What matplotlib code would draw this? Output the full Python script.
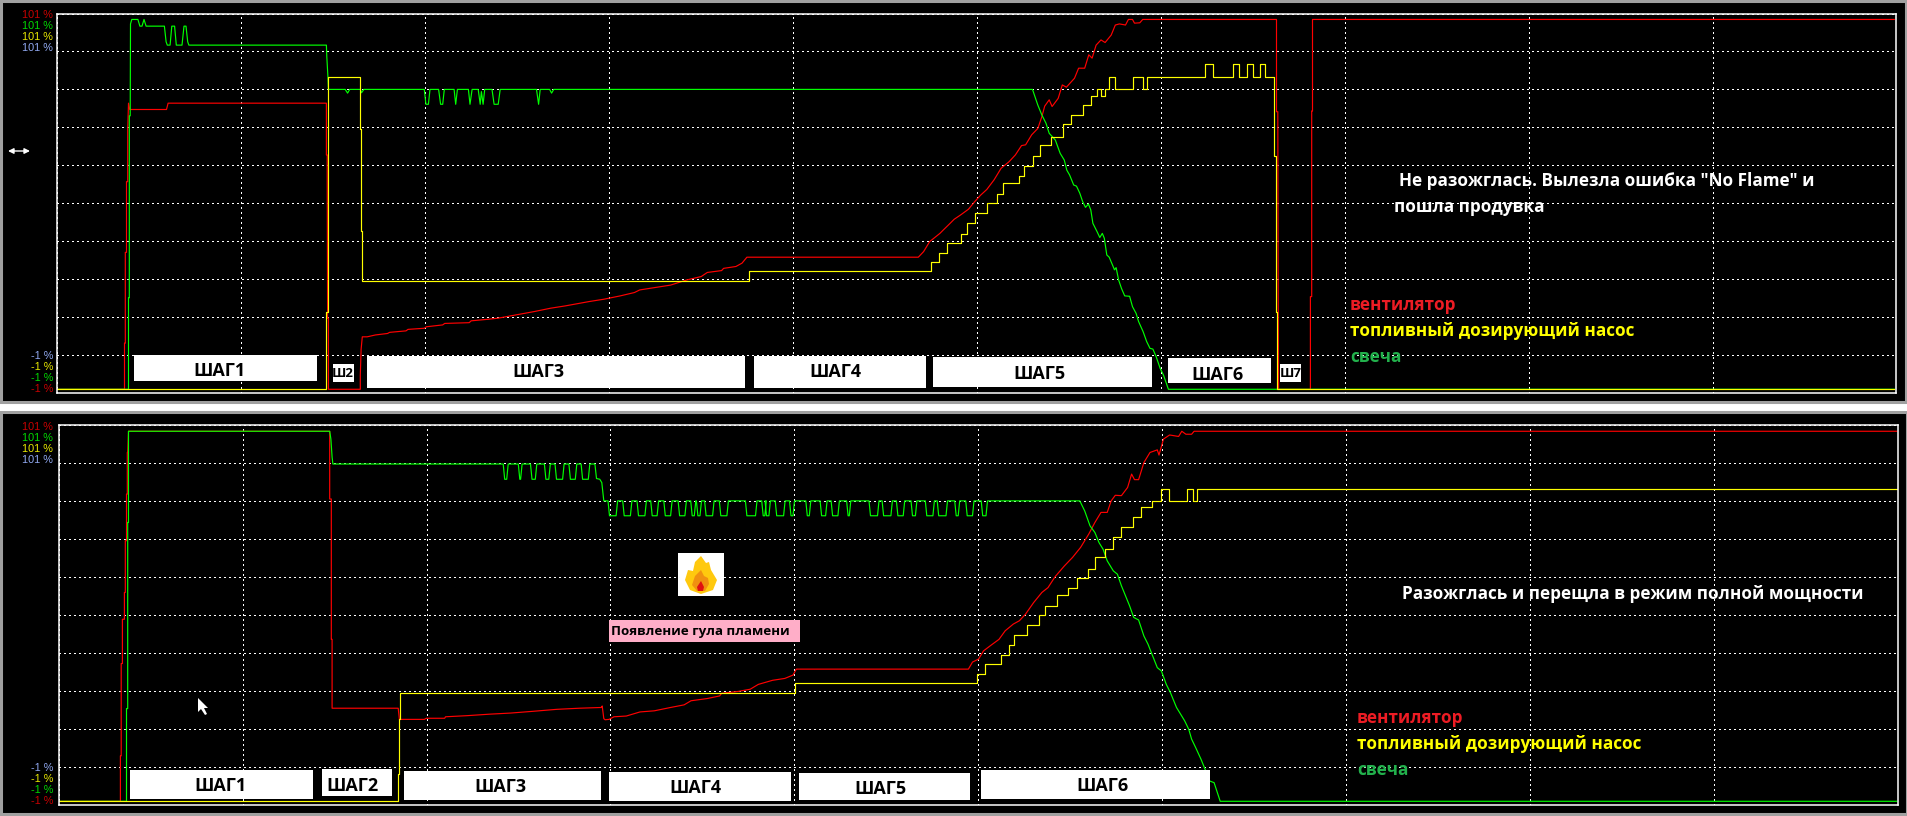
import matplotlib
matplotlib.use('Agg')
import matplotlib.pyplot as plt
from matplotlib.patches import Rectangle, Polygon, FancyArrowPatch
import numpy as np

W, H = 1908, 816

# upper recording - failed ignition (time in samples, values in %)
top_fan_t = [0, 67, 67, 67.8, 67.8, 69, 69, 70.2, 70.2, 71, 72.2, 109, 110.6, 268.9, 268.9, 269.7, 269.7, 270.1,
             270.9, 270.9, 302.8, 302.8, 303.6, 304.8, 309.7, 317.9, 330.1, 332.1, 348.5, 350.5, 366.8, 368.9,
             385.2, 387.2, 411.7, 413.7, 430, 440.3, 477, 493.3, 507.6, 517.8, 532.1, 546.3, 562.7, 576.9, 582.2,
             613.1, 629.4, 643.7, 649.8, 664.1, 666.1, 678.4, 684.5, 689.4, 860.8, 866.1, 872.2, 882.4, 886.5,
             892.6, 896.7, 902.8, 911, 917.1, 923.2, 929.3, 936.6, 943.6, 951.7, 957.9, 964, 968.1, 974.2, 980.3,
             984.4, 987.2, 991.7, 994.6, 1000.7, 1004.8, 1008.9, 1017, 1021.1, 1027.2, 1031.3, 1034.6, 1038.6,
             1043.5, 1047.6, 1053.7, 1057.8, 1061.9, 1068, 1070.9, 1075, 1077, 1082.3, 1085.2, 1219, 1219, 1220.3,
             1220.7, 1221.1, 1252.9, 1252.9, 1254.2, 1254.2, 1255, 1255, 1836.8]
top_fan_v = [0, 0, 12.4, 12.4, 36.8, 36.8, 55.8, 55.8, 69.7, 76.9, 75.2, 75.2, 76.9, 76.9, 63, 63, 57.6, 19.1,
             19.1, 0, 0, 3.8, 10.7, 14.1, 14.1, 14.6, 15, 15.3, 15.7, 16.1, 16.4, 16.8,
             17.3, 17.7, 17.9, 18.4, 18.8, 19.1, 20.9, 21.8, 22.4, 22.9, 23.6, 24.2, 25.1, 26, 26.7,
             28, 29.4, 30.3, 31.4, 31.9, 32.5, 33, 33.9, 35.5, 35.5, 37, 39.7, 41.9, 43,
             44.6, 45.7, 46.8, 48.4, 50.4, 52.2, 53.7, 56.3, 59.4, 61.2, 63, 65.5, 65.7, 68.4, 70.1,
             73.3, 76.1, 77.8, 76, 78.2, 81.8, 81.2, 83.6, 86.3, 86.3, 89.9, 89, 92.5,
             93.9, 93.2, 95.2, 97.9, 98.2, 97.9, 99.4, 99.4, 98.4, 98.5, 99.4, 99.4, 74.6, 74.6,
             24.4, 0, 0, 24.9, 24.9, 74.8, 74.8, 99.4, 99.4]

top_plug_t = [0, 71, 71, 71.8, 71.8, 72.7, 73, 74.3, 80.4, 82.4, 84.5, 86.5, 88.6, 106.9, 108.6, 109.8, 112.6, 114.3,
              117.1, 118.8, 124.5, 126.5, 128.5, 130.2, 131.4, 268.9, 269.3, 270.5, 270.9, 287.7, 290.1, 292.2,
              302.8, 304, 306.4, 366.8, 368.4, 370.9, 372.5, 381.1, 383.1, 385.2, 386.8, 396.6, 398.2, 399.9,
              410.9, 412.5, 414.6, 420.7, 422.7, 423.9, 425.6, 427.2, 434.5, 436.6, 440.7, 442.7, 479, 481.1, 482.7,
              492.1, 494.1, 496.2, 975, 980.3, 984.4, 988.5, 991.7, 997.8, 1002.7, 1006.8, 1009.3, 1012.1, 1016.2,
              1019, 1022.3, 1025.2, 1028, 1030.9, 1033.3, 1035.4, 1039.5, 1042.3, 1044.8, 1046.8, 1049.3, 1051.7,
              1055, 1057, 1058.6, 1061.1, 1064, 1067.2, 1072.1, 1075, 1078.6, 1081.1, 1085.6, 1089.2, 1092.5,
              1095.4, 1098.6, 1102.7, 1106, 1110.9, 1836.8]
top_plug_v = [0, 0, 24.6, 24.6, 73.5, 73.5, 98.2, 99.4, 99.4, 97.6, 97.6, 99.4, 97.6, 97.6, 93.4, 92.5, 92.5, 97.6,
              97.6, 92.5, 92.5, 97.6, 97.6, 93.4, 92.5, 92.5, 89.4, 83.6, 80.6, 80.6, 79.6, 80.6,
              80.6, 79.7, 80.6, 80.6, 76.6, 76.6, 80.6, 80.6, 76.6, 76.6, 80.6, 80.6, 76.6, 80.6,
              80.6, 76.6, 80.6, 80.6, 76.6, 80, 76.6, 80.6, 80.6, 76.6, 76.6, 80.6, 80.6, 76.6, 80.6,
              80.6, 79.6, 80.6, 80.6, 76.4, 73.7, 71.5, 68.8, 67, 63.4, 61.6, 58.9, 57.6, 54.9,
              54.6, 52.7, 50.4, 48.9, 49.8, 48.2, 44.6, 42.4, 40.8, 41.9, 40.6, 36.1, 35.5,
              33.4, 32.1, 32.7, 29.4, 27.1, 25.1, 25, 22.2, 20.4, 18.2, 15.5, 12.8, 11,
              10.8, 8.8, 5.6, 3.8, 0, 0]

top_pump_t = [0, 269, 270.5, 302.8, 303.6, 304.8, 692, 874, 882, 890, 904, 910, 918, 930, 940, 945.5, 962, 966.5,
              975.5, 983, 994, 1006, 1014, 1026, 1034, 1040, 1044, 1047.5, 1051.5, 1057.5, 1075.5, 1086, 1089.5,
              1148, 1156, 1176, 1182, 1190, 1196, 1202.5, 1207.5, 1217, 1218.6, 1219.8, 1836.8]
top_pump_v = [0, 20.9, 83.9, 69.9, 42.6, 29, 31.7, 34.1, 36.7, 39.2, 41.8, 44.6, 47.3, 50, 52.4, 55.4, 57.4, 60,
              62.7, 65.6, 67.7, 71.2, 73.6, 76.4, 78.9, 80.6, 78.9, 80.6, 83.9, 80.6, 83.9, 80.6, 83.9,
              87.3, 83.9, 87.3, 83.9, 87.3, 83.9, 87.3, 83.9, 62.8, 20.9, 0, 0]

# lower recording - ignition and ramp to full power
bot_fan_t = [0, 61.6, 61.6, 62.4, 62.4, 63.6, 63.6, 65.6, 65.6, 66.5, 66.5, 67.7, 67.7, 68.5, 68.5, 68.9, 69.7,
             270.9, 270.9, 272.5, 272.5, 273.3, 273.3, 339.4, 340.6, 365.5, 367.6, 385.9, 386.7, 408.4, 430.8, 452,
             475.6, 498.1, 520.6, 542.6, 543.4, 545, 546.3, 550.3, 555.2, 567.5, 581.2, 595.5, 611.8, 625.3, 632.2,
             648.5, 660.8, 662.8, 679.1, 691.4, 699.5, 713.8, 726, 734.2, 737.5, 909.6, 913.7, 919.8, 924.7, 932.1,
             940.2, 946.4, 954.5, 960.6, 966.8, 974.9, 983.1, 989.2, 996.5, 1005.5, 1013.7, 1021.8, 1030, 1036.1,
             1042.2, 1048.4, 1052.4, 1056.5, 1062.6, 1068.8, 1072.8, 1075.7, 1079.8, 1085.1, 1091.2, 1098.5, 1100.2,
             1104.7, 1110.8, 1119.8, 1123, 1127.1, 1132.8, 1135.3, 1838]
bot_fan_v = [0, 0, 12.2, 12.2, 37, 37, 48.9, 48.9, 56.1, 56.1, 70, 70, 82.5, 82.5, 93.7, 93.7, 99.4,
             99.4, 81.2, 81.2, 43.5, 43.5, 25, 25, 22, 22, 22.3, 22.3, 22.7, 23, 23.4, 23.7,
             24.2, 24.7, 25, 25.2, 25.6, 22.2, 21.9, 22, 22.7, 22.9, 24, 24.3, 25.2, 25.9, 27,
             27.6, 28.3, 29, 29.5, 30.1, 31.4, 32.5, 33, 33.9, 35.5, 35.5, 37.4, 38.2, 40.4, 41.9,
             43.5, 45.8, 47.6, 48.5, 50.3, 53.4, 56.1, 57.4, 60.4, 63.2, 65.5, 68.2, 71.8, 74.9,
             77.6, 77.6, 80.7, 82.2, 82.1, 84.3, 87.9, 86.4, 86.4, 91, 93.7, 94.4, 93,
             97.3, 98.4, 98, 99.4, 98.6, 98.6, 99.4, 99.4]

# spark plug before the pulsing starts
bot_plug_t = [0, 67.7, 67.7, 68.9, 68.9, 69.7, 69.7, 270.9, 272.1, 273.3, 274.1, 443.9]
bot_plug_v = [0, 0, 24.9, 24.9, 74.9, 74.9, 99.4, 99.4, 97.3, 92.4, 90.6, 90.6]

# plug dropouts at the upper level: start and end of each dip
dip1_start = [445.9, 461, 473.2, 487.1, 497.7, 511.6, 523.8]
dip1_end = [447.9, 461.8, 476.5, 490, 503.8, 516.5, 529.5]
dip1_high, dip1_low = 90.6, 86.5

# transition between the two levels
step_t = [536.1, 537.7, 541, 543, 545, 549.1]
step_v = [90.6, 86.7, 86.5, 85.6, 80.7, 80.7]

# plug dropouts at the lower level
dip2_start = [550.7, 565.4, 579.7, 593.4, 606.5, 620.8, 633.4, 639.1, 647.3, 662, 688.1, 704.4, 707.7, 717.9,
              732.2, 748.5, 762.8, 773.8, 789.3, 811.7, 824.8, 839.1, 853.7, 868, 879.9, 897.4, 908.4, 923.9]
dip2_end = [557.3, 571.6, 586.1, 598.3, 611.8, 626.1, 635.5, 641.2, 653.8, 668.1, 696.7, 706, 710.1, 724.8,
            734.2, 750.5, 766.8, 779.1, 790.5, 818.7, 832.1, 844.4, 856.6, 874.1, 887.2, 899.4, 913.7, 927.2]
dip2_high, dip2_low = 80.7, 76.7

# plug ramp down
down_t = [1021, 1025.9, 1031.2, 1036.1, 1040.2, 1044.3, 1048.4, 1054.5, 1058.6, 1062.6, 1066.7, 1070.8, 1074.9,
          1079.8, 1085.1, 1089.2, 1093.2, 1098.5, 1102.6, 1107.5, 1111.6, 1117.7, 1121.8, 1125.9, 1130, 1132.8,
          1136.9, 1142.2, 1146.3, 1150.4, 1155.3, 1161.4, 1838]
down_v = [80.7, 78, 74, 72.2, 69.5, 67.7, 64.6, 61.9, 61, 57.9, 55.2, 52.5, 49.4,
          48.7, 44.4, 42.2, 39.5, 35.9, 35, 31.4, 29.2, 25.2, 23.4, 21.6, 19.3, 16.7,
          14.4, 11.3, 8.6, 5.5, 5, 0, 0]

bot_pump_t = [0, 339.4, 340.2, 341, 736.2, 918.2, 926.4, 941.9, 950.4, 955.7, 968, 980.2, 985.9, 998.2, 1008.8,
              1018.6, 1028.8, 1036.1, 1046.3, 1054.5, 1062.6, 1074.1, 1082.2, 1093.2, 1102.2, 1110, 1128.7, 1134,
              1138.5, 1838]
bot_pump_v = [0, 7.2, 22, 29, 31.7, 34.1, 36.8, 39.2, 41.9, 44.6, 47.3, 50, 52.5, 55.4, 57.4,
              59.9, 62.5, 65.6, 67.7, 71.1, 73.6, 76.4, 79.1, 80.6, 83.9, 80.6, 83.9, 80.6,
              83.9, 83.9]

# step labels: text, box left, right, top, bottom, text x, text y (image pixels)
top_steps = [('ШАГ1', 134, 317, 355, 381, 220, 368), ('Ш2', 333, 354, 364, 382, 343, 373),
             ('ШАГ3', 367, 745, 356, 388, 538, 369), ('ШАГ4', 754, 926, 356, 388, 835, 369),
             ('ШАГ5', 933, 1152, 357, 387, 1039, 371), ('ШАГ6', 1168, 1271, 358, 383, 1218, 372),
             ('Ш7', 1280, 1301, 364, 382, 1291, 373)]
bot_steps = [('ШАГ1', 130, 313, 770, 799, 221, 783), ('ШАГ2', 322, 392, 769, 796, 353, 783),
             ('ШАГ3', 404, 601, 771, 800, 500, 784), ('ШАГ4', 609, 791, 772, 801, 695, 785),
             ('ШАГ5', 799, 970, 773, 800, 880, 786), ('ШАГ6', 981, 1210, 770, 799, 1102, 783)]

legend_labels = ['вентилятор', 'топливный дозирующий насос', 'свеча']
legend_colors = ['#ed1c24', '#ffff00', '#22b14c']
scale_high = ['101 %', '101 %', '101 %', '101 %']
scale_low = ['-1 %', '-1 %', '-1 %', '-1 %']

RED = '#ff0000'
GREEN = '#00ff00'
YELLOW = '#ffff00'
TEXT_FONT = ['Open Sans', 'DejaVu Sans']
TRACE_LW = 0.85


def fx(px):
    return px / W


def fy(py):
    return 1 - py / H


def box(x0, x1, y0, y1, color, edge='none', lw=0, zorder=5):
    fig.add_artist(Rectangle((fx(x0), fy(y1)), (x1 - x0) / W, (y1 - y0) / H, transform=fig.transFigure,
                             facecolor=color, edgecolor=edge, linewidth=lw, zorder=zorder))


def make_axes(left, right, top, bottom):
    ax = fig.add_axes([fx(left), fy(bottom), (right - left) / W, (bottom - top) / H], facecolor='black')
    ax.set_xlim(0, 1839)
    ax.set_ylim(-1, 101)
    ax.set_xticks(np.linspace(0, 1839, 11))
    ax.set_yticks(np.linspace(-1, 101, 11))
    ax.tick_params(length=0, labelbottom=False, labelleft=False)
    ax.grid(True, color='white', linewidth=0.75, linestyle=(0, (1, 3)), antialiased=False)
    ax.set_axisbelow(True)
    for s in ax.spines.values():
        s.set_color('white')
        s.set_linewidth(1.1)
    return ax


def dips(starts, ends, high, low):
    t, v = [], []
    for a, b in zip(starts, ends):
        t += [a - 1.5, a, b, b + 1.5]
        v += [high, low, low, high]
    return t, v


def caption(px, py, s, color='white', size=12.3):
    fig.text(fx(px), fy(py), s, color=color, fontsize=size, fontweight='bold', family=TEXT_FONT,
             ha='left', va='center', zorder=6)


def scale_texts(ys, colors, labels):
    for y, c, s in zip(ys, colors, labels):
        fig.text(fx(53), fy(y), s, color=c, fontsize=7.8, family=['Liberation Sans', 'DejaVu Sans'],
                 ha='right', va='center', zorder=6)


fig = plt.figure(figsize=(W / 100, H / 100), dpi=100, facecolor='white')

# window backgrounds with the grey frame, behind the axes
box(1, 1906, 1, 402, 'black', '#a0a0a0', 2.2, zorder=-1)
box(1, 1907, 412, 814, 'black', '#a0a0a0', 2.2, zorder=-1)

ax1 = make_axes(57.5, 1896.5, 13.5, 393)
ax1.plot(top_fan_t, top_fan_v, color=RED, lw=TRACE_LW)
ax1.plot(top_plug_t, top_plug_v, color=GREEN, lw=TRACE_LW)
ax1.plot(top_pump_t, top_pump_v, color=YELLOW, lw=TRACE_LW, drawstyle='steps-post')

ax2 = make_axes(58.8, 1897.8, 425.3, 805)
d1_t, d1_v = dips(dip1_start, dip1_end, dip1_high, dip1_low)
d2_t, d2_v = dips(dip2_start, dip2_end, dip2_high, dip2_low)
plug_t = bot_plug_t + d1_t + step_t + d2_t + down_t
plug_v = bot_plug_v + d1_v + step_v + d2_v + down_v
ax2.plot(bot_fan_t, bot_fan_v, color=RED, lw=TRACE_LW)
ax2.plot(plug_t, plug_v, color=GREEN, lw=TRACE_LW)
ax2.plot(bot_pump_t, bot_pump_v, color=YELLOW, lw=TRACE_LW, drawstyle='steps-post')

hi_colors = ['#c80000', '#00d800', '#e8e800', '#90a8f0']
lo_colors = ['#90a8f0', '#e8e800', '#00d800', '#c80000']
scale_texts([15, 26, 37, 48], hi_colors, scale_high)
scale_texts([356, 367, 378, 389], lo_colors, scale_low)
scale_texts([427, 438, 449, 460], hi_colors, scale_high)
scale_texts([768, 779, 790, 801], lo_colors, scale_low)

for steps in (top_steps, bot_steps):
    for name, x0, x1, y0, y1, tx, ty in steps:
        box(x0, x1, y0, y1, 'white')
        small = len(name) == 2
        fig.text(fx(tx), fy(ty + (1 if small else 3)), name, color='black', fontsize=9.5 if small else 13,
                 fontweight='bold', family=TEXT_FONT, ha='center', va='center', zorder=6)

caption(1399, 181, 'Не разожглась. Вылезла ошибка "No Flame" и')
caption(1394, 207, 'пошла продувка')
caption(1402, 594, 'Разожглась и перещла в режим полной мощности')
for y, s, c in zip([305, 331, 357], legend_labels, legend_colors):
    caption(1350, y, s, color=c)
for y, s, c in zip([718, 744, 770], legend_labels, legend_colors):
    caption(1357, y, s, color=c)

# flame note
box(609, 800, 620, 642, '#ffaec8')
fig.text(fx(611), fy(631), 'Появление гула пламени', color='black', fontsize=9.6, fontweight='bold',
         family=TEXT_FONT, ha='left', va='center', zorder=6)

# flame icon
box(678, 724, 553, 596, 'white')
flame_outer = [(701, 556), (706, 563), (709, 562), (711, 570), (717, 580), (713, 590), (701, 594), (690, 590),
               (685, 580), (688, 570), (693, 571), (695, 562)]
flame_mid = [(701, 570), (704, 576), (708, 578), (709, 584), (705, 591), (697, 591), (692, 585), (695, 576)]
flame_core = [(701, 581), (704, 587), (703, 591), (698, 591), (697, 587)]
for pts, c in ((flame_outer, '#ffc90e'), (flame_mid, '#f09010'), (flame_core, '#e01010')):
    fig.add_artist(Polygon([(fx(a), fy(b)) for a, b in pts], closed=True, transform=fig.transFigure,
                           facecolor=c, edgecolor='none', zorder=6))

# resize cursor at the left and mouse pointer in the lower window
fig.add_artist(FancyArrowPatch((fx(8), fy(151)), (fx(30), fy(151)), transform=fig.transFigure,
                               arrowstyle='<|-|>', mutation_scale=8, color='white', lw=1, zorder=6,
                               shrinkA=0, shrinkB=0))
pointer = [(198, 698), (198, 712), (201, 709), (205, 715), (207, 714), (204, 708), (208, 708)]
fig.add_artist(Polygon([(fx(a), fy(b)) for a, b in pointer], closed=True, transform=fig.transFigure,
                       facecolor='white', edgecolor='none', zorder=6))

fig.savefig('out.png', dpi=100, facecolor='white')
